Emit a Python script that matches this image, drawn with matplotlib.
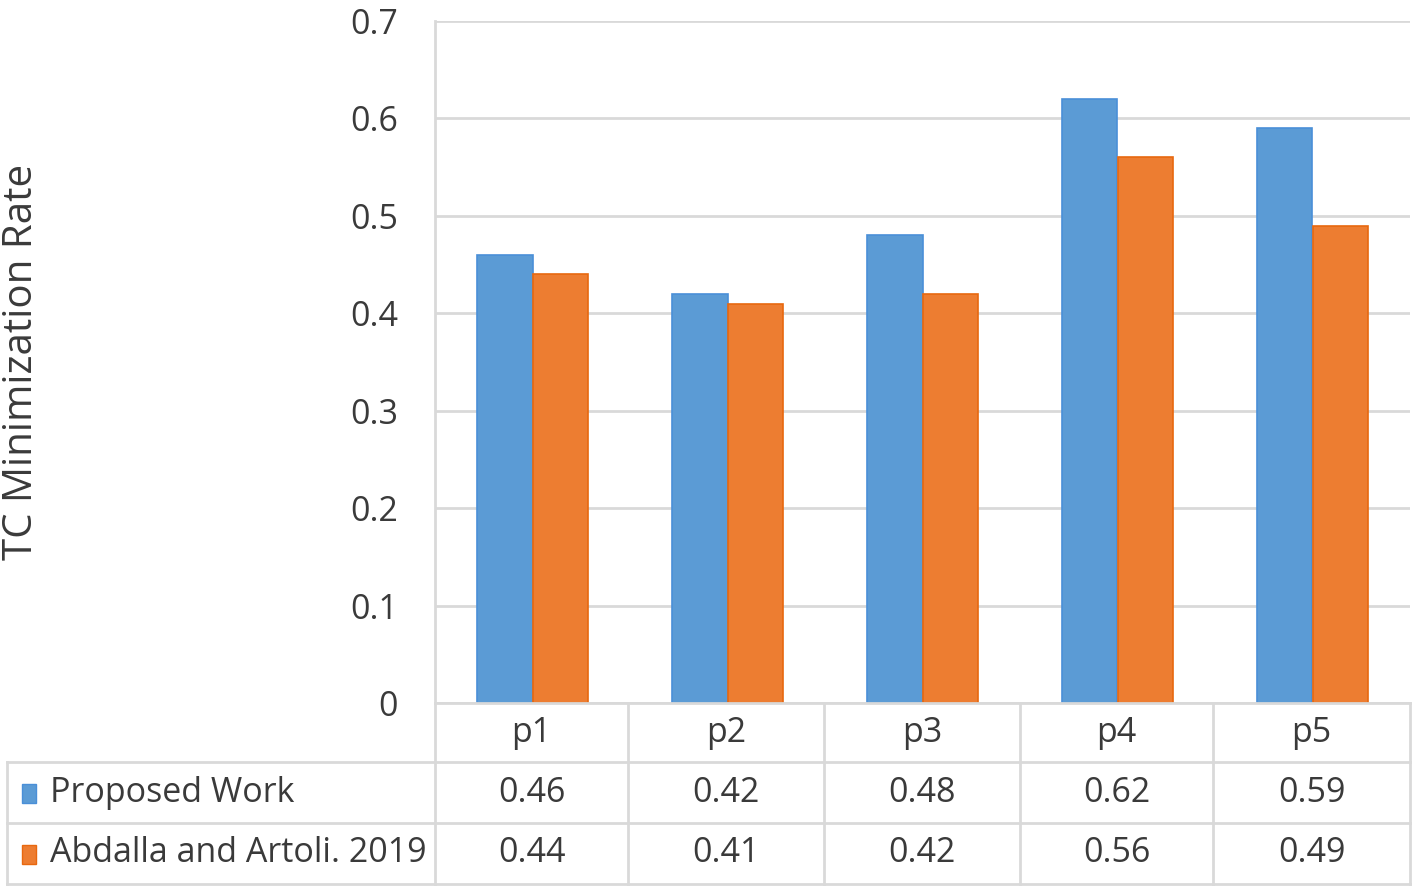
import matplotlib
matplotlib.use("Agg")
import matplotlib.pyplot as plt
import numpy as np

categories = ["p1", "p2", "p3", "p4", "p5"]
series_names = ["Proposed Work", "Abdalla and Artoli. 2019"]
proposed = [0.46, 0.42, 0.48, 0.62, 0.59]
abdalla = [0.44, 0.41, 0.42, 0.56, 0.49]
yticks = [0, 0.1, 0.2, 0.3, 0.4, 0.5, 0.6, 0.7]
ytick_labels = ["0", "0.1", "0.2", "0.3", "0.4", "0.5", "0.6", "0.7"]
ylabel = "TC Minimization Rate"

colors = ["#5B9BD5", "#ED7D31"]
edges = ["#4A8FD8", "#E8680F"]
grid_c = "#D9D9D9"
font = ["Open Sans", "DejaVu Sans"]
plt.rcParams["font.family"] = font
FS = 24.5
tc = "#3A3A3A"

W, H = 1418, 893
fig = plt.figure(figsize=(W / 100, H / 100), dpi=100)

# pixel geometry
L, R, T, B = 435, 1410, 21, 703
ax = fig.add_axes([L / W, 1 - B / H, (R - L) / W, (B - T) / H])
n = len(categories)
x = np.arange(n)
bw = 0.287
ax.bar(x - bw / 2, proposed, bw, color=colors[0], edgecolor=edges[0], linewidth=1.2, zorder=3)
ax.bar(x + bw / 2, abdalla, bw, color=colors[1], edgecolor=edges[1], linewidth=1.2, zorder=3)
ax.set_xlim(-0.5, n - 0.5)
ax.set_ylim(0, 0.7)
ax.set_yticks(yticks)
ax.set_yticklabels(ytick_labels, fontsize=FS, color=tc)
ax.set_xticks([])
ax.tick_params(axis="y", length=0, pad=26.5)
ax.yaxis.grid(True, color=grid_c, linewidth=2, zorder=0)
for s in ["top", "right", "bottom"]:
    ax.spines[s].set_visible(False)
ax.spines["left"].set_color(grid_c)
ax.spines["left"].set_linewidth(2)
ax.set_ylabel(ylabel, fontsize=29, color=tc, labelpad=0)
ax.yaxis.set_label_coords(-(L - 42) / (R - L), 0.5)

# overlay axes for data table in pixel coordinates
ov = fig.add_axes([0, 0, 1, 1], facecolor="none")
ov.set_xlim(0, W)
ov.set_ylim(H, 0)
ov.axis("off")
col_edges = [L, 628, 824, 1020, 1213, R]
row_edges = [B, 762, 823, 884]
lx = 7
lw = 2
ov.plot([L, R], [row_edges[0], row_edges[0]], color=grid_c, lw=lw)
for y in row_edges[1:]:
    ov.plot([lx, R], [y, y], color=grid_c, lw=lw)
for xe in col_edges:
    ov.plot([xe, xe], [row_edges[0], row_edges[-1]], color=grid_c, lw=lw)
ov.plot([lx, lx], [row_edges[1], row_edges[-1]], color=grid_c, lw=lw)

centers = [(col_edges[i] + col_edges[i + 1]) / 2 for i in range(n)]
for i, c in enumerate(categories):
    ov.text(centers[i], (row_edges[0] + row_edges[1]) / 2, c, ha="center", va="center",
            fontsize=FS, color=tc)
for r, vals in enumerate([proposed, abdalla]):
    yc = (row_edges[r + 1] + row_edges[r + 2]) / 2
    for i, v in enumerate(vals):
        ov.text(centers[i], yc, f"{v:.2f}", ha="center", va="center", fontsize=FS, color=tc)
    ov.add_patch(plt.Rectangle((22, yc - 9), 14, 19, facecolor=colors[r], edgecolor=edges[r], lw=1))
    ov.text(50, yc, series_names[r], ha="left", va="center", fontsize=FS, color=tc)

fig.savefig("out.png", dpi=100, facecolor="white")
